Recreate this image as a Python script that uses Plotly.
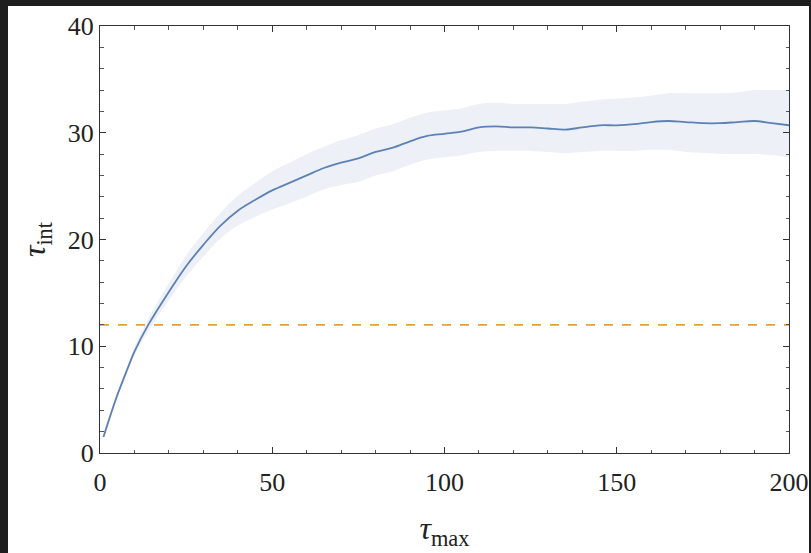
import plotly.graph_objects as go

tau_max = [1, 3, 5, 8, 10, 14, 20, 25, 30, 35, 40, 45, 50, 55, 60, 65, 70, 75, 80, 85, 90, 95,
           100, 105, 110, 115, 120, 125, 130, 135, 140, 145, 150, 155, 160, 165, 170, 175,
           180, 185, 190, 195, 200]
tau_int = [1.5, 3.5, 5.4, 7.9, 9.5, 12.0, 15.1, 17.5, 19.5, 21.3, 22.7, 23.7, 24.6, 25.3, 26.0,
           26.7, 27.2, 27.6, 28.2, 28.6, 29.2, 29.7, 29.9, 30.1, 30.5, 30.6, 30.5, 30.5, 30.4,
           30.3, 30.5, 30.7, 30.7, 30.8, 31.0, 31.1, 31.0, 30.9, 30.9, 31.0, 31.1, 30.9, 30.7]
tau_upper = [1.6, 3.6, 5.6, 8.2, 9.9, 12.6, 15.9, 18.5, 20.6, 22.5, 24.1, 25.3, 26.4, 27.2,
             28.0, 28.7, 29.3, 29.8, 30.4, 30.8, 31.4, 31.9, 32.1, 32.3, 32.7, 32.8, 32.7, 32.7,
             32.7, 32.7, 32.9, 33.1, 33.2, 33.3, 33.5, 33.7, 33.7, 33.7, 33.7, 33.8, 34.0,
             34.0, 34.0]
tau_lower = [1.4, 3.4, 5.2, 7.6, 9.1, 11.4, 14.3, 16.5, 18.4, 20.1, 21.3, 22.1, 22.8, 23.4,
             24.0, 24.7, 25.1, 25.4, 26.0, 26.4, 27.0, 27.5, 27.7, 27.9, 28.2, 28.3, 28.3, 28.3,
             28.2, 28.1, 28.2, 28.3, 28.3, 28.3, 28.4, 28.4, 28.2, 28.1, 28.0, 28.0, 28.0,
             27.9, 27.7]
threshold = 12
x_range = [0, 200]
y_range = [0, 40]

fig = go.Figure()
fig.add_trace(go.Scatter(x=tau_max, y=tau_upper, mode="lines", line=dict(width=0, shape="spline"),
                         showlegend=False, hoverinfo="skip"))
fig.add_trace(go.Scatter(x=tau_max, y=tau_lower, mode="lines", line=dict(width=0, shape="spline"),
                         fill="tonexty", fillcolor="rgba(94,129,181,0.11)",
                         showlegend=False, hoverinfo="skip"))
fig.add_trace(go.Scatter(x=tau_max, y=tau_int, mode="lines",
                         line=dict(color="#5e81b5", width=1.8, shape="spline"), showlegend=False))
fig.add_trace(go.Scatter(x=x_range, y=[threshold, threshold], mode="lines",
                         line=dict(color="#e9a032", width=1.6, dash="dash"), showlegend=False))

W, H = 811, 553
ml, mr, mt, mb = 100, 22, 26, 100
pw, ph = W - ml - mr, H - mt - mb

def px(xp):
    return (xp - ml) / pw

def py(yp):
    return (H - mb - yp) / ph

fig.add_shape(type="rect", xref="paper", yref="paper",
              x0=px(8), x1=px(809), y0=py(553), y1=py(6),
              fillcolor="white", line=dict(width=0), layer="below")

axis_common = dict(showgrid=False, zeroline=False, showline=True, linecolor="#333333",
                   linewidth=1, mirror="ticks", ticks="inside", ticklen=6, tickwidth=1,
                   tickcolor="#333333", automargin=False,
                   tickfont=dict(family="Liberation Serif", size=26, color="#222222"))

fig.update_xaxes(range=x_range, dtick=50, tick0=0, ticklabelstandoff=6,
                 minor=dict(dtick=10, ticks="inside", ticklen=3.5, tickcolor="#555555"),
                 title=dict(text="<i>τ</i><sub>max</sub>", standoff=20,
                            font=dict(family="Liberation Serif", size=32, color="#222222")),
                 **axis_common)
fig.update_yaxes(range=y_range, dtick=10, tick0=0,
                 minor=dict(dtick=2, ticks="inside", ticklen=3.5, tickcolor="#555555"),
                 title=dict(text="<i>τ</i><sub>int</sub>", standoff=12,
                            font=dict(family="Liberation Serif", size=32, color="#222222")),
                 **axis_common)

fig.update_layout(width=W, height=H, margin=dict(l=ml, r=mr, t=mt, b=mb),
                  paper_bgcolor="#1e1e1e", plot_bgcolor="white")

fig.write_html("out.html")
